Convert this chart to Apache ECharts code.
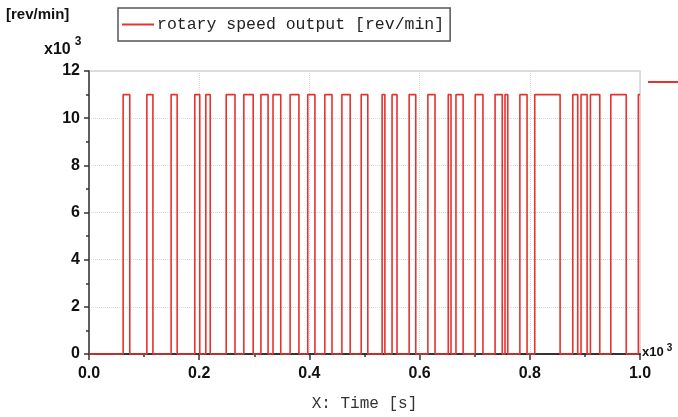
<!DOCTYPE html>
<html>
<head>
<meta charset="utf-8">
<script src="https://cdn.jsdelivr.net/npm/echarts@6/dist/echarts.min.js"></script>
<style>html,body{margin:0;padding:0;background:#fff}#c{width:678px;height:417px}</style>
</head>
<body>
<div id="c"></div>
<script>
// Pulse edges (time in s)
const riseTimes = [0.062, 0.105, 0.149, 0.192, 0.212, 0.249, 0.281, 0.312, 0.334, 0.365,
  0.397, 0.428, 0.459, 0.494, 0.532, 0.550, 0.581, 0.615, 0.652, 0.666,
  0.701, 0.737, 0.755, 0.782, 0.809, 0.878, 0.893, 0.910, 0.947, 0.997];
const fallTimes = [0.074, 0.116, 0.160, 0.201, 0.220, 0.265, 0.298, 0.325, 0.348, 0.381,
  0.410, 0.441, 0.474, 0.506, 0.537, 0.559, 0.593, 0.628, 0.657, 0.679,
  0.715, 0.750, 0.760, 0.795, 0.855, 0.887, 0.904, 0.927, 0.975, 1.0];
const highLevel = 11000; // rev/min
const lowLevel = 0;
const xTickLabels = ['0.0', '0.2', '0.4', '0.6', '0.8', '1.0'];
const yTickLabels = ['0', '2', '4', '6', '8', '10', '12'];
const seriesName = 'rotary speed output [rev/min]';

const points = [[0, lowLevel]];
for (let i = 0; i < riseTimes.length; i++) {
  points.push([riseTimes[i], lowLevel], [riseTimes[i], highLevel], [fallTimes[i], highLevel]);
  if (fallTimes[i] < 1.0) points.push([fallTimes[i], lowLevel]);
}

const red = '#e8322e';
const chart = echarts.init(document.getElementById('c'), null, {renderer: 'canvas'});
chart.setOption({
  animation: false,
  backgroundColor: '#fff',
  grid: {left: 89, right: 38, top: 71, bottom: 57, show: true, borderColor: '#d4d4d4', borderWidth: 1.5},
  legend: {
    left: 118, top: 8, orient: 'horizontal',
    borderColor: '#555', borderWidth: 1.5, padding: [8, 6, 8, 4],
    itemWidth: 32, itemHeight: 2, itemGap: 0,
    data: [{name: seriesName, icon: 'rect'}],
    textStyle: {fontFamily: 'Liberation Mono', fontSize: 16.5, color: '#222', padding: [0, 0, 0, -2]}
  },
  xAxis: {
    type: 'value', min: 0, max: 1.0, interval: 0.2,
    name: 'X: Time [s]', nameLocation: 'middle', nameGap: 42,
    nameTextStyle: {fontFamily: 'Liberation Mono', fontSize: 16, color: '#333'},
    axisLine: {onZero: false, lineStyle: {color: '#333', width: 2}},
    axisTick: {show: true, length: 6, lineStyle: {color: '#333', width: 1.5}},
    minorTick: {show: true, splitNumber: 2, length: 3, lineStyle: {color: '#333', width: 1.5}},
    splitLine: {show: true, lineStyle: {color: '#d8d8d8', type: 'dotted', width: 1}},
    axisLabel: {
      margin: 12, fontFamily: 'Liberation Sans', fontWeight: 'bold', fontSize: 16, color: '#111',
      formatter: v => xTickLabels[Math.round(v / 0.2)]
    }
  },
  yAxis: {
    type: 'value', min: 0, max: 12000, interval: 2000,
    axisLine: {show: true, lineStyle: {color: '#333', width: 1.5}},
    axisTick: {show: true, length: 5, lineStyle: {color: '#333', width: 1.5}},
    minorTick: {show: true, splitNumber: 2, length: 3, lineStyle: {color: '#333', width: 1.5}},
    splitLine: {show: true, lineStyle: {color: '#d8d8d8', type: 'dotted', width: 1}},
    axisLabel: {
      margin: 9, fontFamily: 'Liberation Sans', fontWeight: 'bold', fontSize: 16, color: '#111',
      formatter: v => yTickLabels[Math.round(v / 2000)]
    }
  },
  series: [{
    name: seriesName, type: 'line', data: points,
    showSymbol: false, symbol: 'none', clip: false,
    lineStyle: {color: red, width: 1.6}, itemStyle: {color: red}
  }],
  graphic: [
    {type: 'text', left: 6, top: 7, style: {text: '[rev/min]', font: 'bold 15px "Liberation Sans"', fill: '#111'}},
    {type: 'text', left: 44, top: 36, style: {
      text: '{b|x10}{s|3}', rich: {
        b: {font: 'bold 16px "Liberation Sans"', fill: '#111', verticalAlign: 'bottom', lineHeight: 22},
        s: {font: 'bold 12px "Liberation Sans"', fill: '#111', verticalAlign: 'top', lineHeight: 22, padding: [0, 0, 10, 4]}
      }}},
    {type: 'text', left: 642, top: 343, style: {
      text: '{b|x10}{s|3}', rich: {
        b: {font: 'bold 13px "Liberation Sans"', fill: '#111', lineHeight: 18},
        s: {font: 'bold 10px "Liberation Sans"', fill: '#111', lineHeight: 18, padding: [0, 0, 8, 3]}
      }}},
    {type: 'line', shape: {x1: 648, y1: 82, x2: 678, y2: 82}, style: {stroke: red, lineWidth: 2}}
  ]
});
</script>
</body>
</html>
